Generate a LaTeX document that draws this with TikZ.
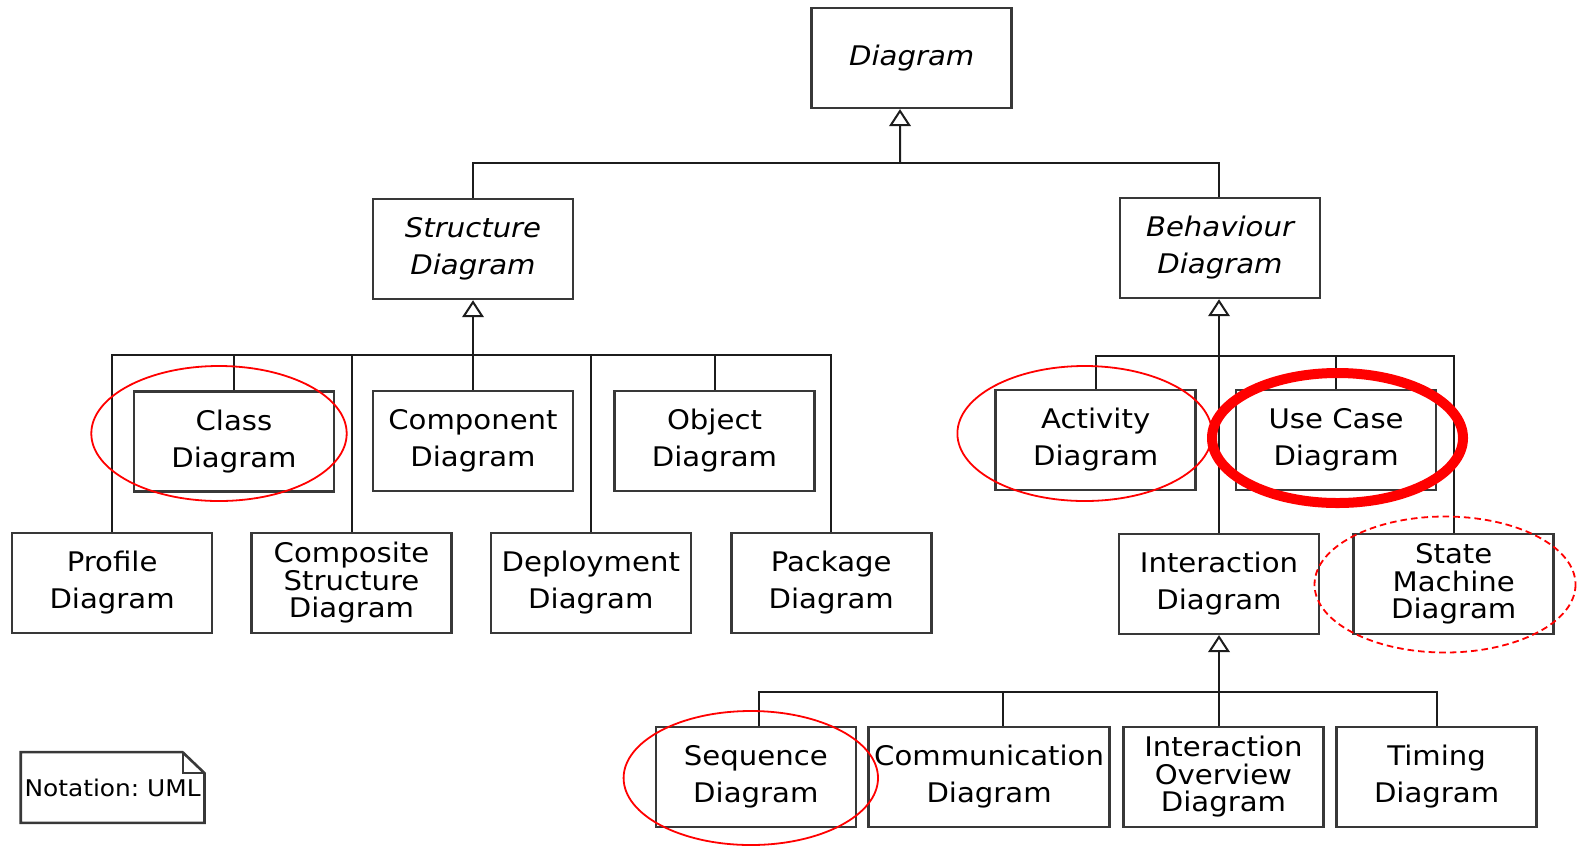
\documentclass[tikz,border=0pt]{standalone}
\usepackage{fontspec}
\setmainfont{DejaVu Sans}[FakeStretch=1.08]
\usepackage{xcolor}
\usepackage{tikz}
\usetikzlibrary{arrows.meta}
\definecolor{UMLLine}{HTML}{383838}
\definecolor{UMLLink}{HTML}{1C1C1C}
\definecolor{MarkRed}{HTML}{FF0000}
\frenchspacing

\tikzset{
  umlbox/.style={draw=UMLLine,line width=1.3pt,fill=white,minimum width=100pt,minimum height=50pt,inner sep=0pt,align=center,font=\fontsize{13.5}{18.5}\selectfont},
  umlbox3/.style={umlbox,font=\fontsize{13.5}{13.75}\selectfont},
  abstractbox/.style={umlbox,font=\fontsize{13.5}{18.5}\selectfont\itshape},
  link/.style={draw=UMLLink,line width=1pt},
  gen/.style={link,-{Triangle[open,width=10.8pt,length=8.5pt]}},
  ring/.style={draw=MarkRed,line width=0.9pt},
  ringbold/.style={draw=MarkRed,line width=5pt},
  ringdash/.style={draw=MarkRed,line width=0.9pt,dash pattern=on 3.3pt off 2pt}
}

\begin{document}
\begin{tikzpicture}[x=0.5pt,y=-0.5pt]
\useasboundingbox (0,0) rectangle (1577,847);
% top and first level
\node[abstractbox] (diagram) at (911.7,57.8) {Diagram};
\node[abstractbox] (structure) at (473,248.9) {Structure\\Diagram};
\node[abstractbox] (behaviour) at (1220,247.9) {Behaviour\\Diagram};
% structure diagrams
\node[umlbox] (class) at (234,441.5) {Class\\Diagram};
\node[umlbox] (component) at (473,441) {Component\\Diagram};
\node[umlbox] (object) at (714.5,441) {Object\\Diagram};
\node[umlbox] (profile) at (112.1,582.8) {Profile\\Diagram};
\node[umlbox3] (composite) at (351.5,582.8) {Composite\\Structure\\Diagram};
\node[umlbox] (deployment) at (590.8,582.8) {Deployment\\Diagram};
\node[umlbox] (package) at (831.2,582.8) {Package\\Diagram};
% behaviour diagrams
\node[umlbox] (activity) at (1095.7,440) {Activity\\Diagram};
\node[umlbox] (usecase) at (1336.1,440) {Use Case\\Diagram};
\node[umlbox] (interaction) at (1219,583.8) {Interaction\\Diagram};
\node[umlbox3] (statemachine) at (1453.7,583.8) {State\\Machine\\Diagram};
% interaction diagrams
\node[umlbox] (sequence) at (755.8,776.9) {Sequence\\Diagram};
\node[umlbox,minimum width=120.5pt] (communication) at (989.1,776.9) {Communication\\Diagram};
\node[umlbox3] (overview) at (1223.4,776.9) {Interaction\\Overview\\Diagram};
\node[umlbox] (timing) at (1436.6,776.9) {Timing\\Diagram};
% note
\node[minimum width=91.5pt,minimum height=35pt,inner sep=0pt,font=\fontsize{11.5}{14}\selectfont] (note) at (112.6,787.5) {Notation: UML};
\draw[draw=UMLLine,line width=1.3pt] (note.north west) -- ([xshift=-11pt]note.north east) -- ([yshift=-10.5pt]note.north east) -- (note.south east) -- (note.south west) -- cycle;
\draw[draw=UMLLine,line width=1pt] ([xshift=-11pt]note.north east) -- ([xshift=-11pt,yshift=-10.5pt]note.north east) -- ([yshift=-10.5pt]note.north east);

% generalisations
\coordinate (dj) at (900,162.9);
\draw[gen] (dj) -- ([xshift=-5.85pt]diagram.south);
\draw[link] (structure.north) |- (dj);
\draw[link] ([xshift=-0.5pt]behaviour.north) |- (dj);

\coordinate (sj) at (473,355);
\draw[gen] (sj) -- (structure.south);
\foreach \n in {profile,class,component,composite,deployment,object,package}
  \draw[link] (\n.north) |- (sj);

\coordinate (bj) at (1219,356);
\draw[gen] (bj) -- (bj |- behaviour.south);
\foreach \n in {activity,interaction,usecase,statemachine}
  \draw[link] (\n.north) |- (bj);

\coordinate (ij) at (1219,692);
\draw[gen] (ij) -- (interaction.south);
\draw[link] ([xshift=1.75pt]sequence.north) |- (ij);
\draw[link] ([xshift=6.8pt]communication.north) |- (ij);
\draw[link] ([xshift=-2.2pt]overview.north) |- (ij);
\draw[link] (timing.north) |- (ij);

% red marks
\draw[ring] (219,433.5) ellipse [x radius=127.7,y radius=67.5];
\draw[ring] (1084.7,433.5) ellipse [x radius=127.3,y radius=67.5];
\draw[ringbold] (1337.5,438) ellipse [x radius=125.5,y radius=65];
\draw[ringdash] (1445,584.5) ellipse [x radius=130.5,y radius=68];
\draw[ring] (750.8,778) ellipse [x radius=127.2,y radius=67];
\end{tikzpicture}
\end{document}
